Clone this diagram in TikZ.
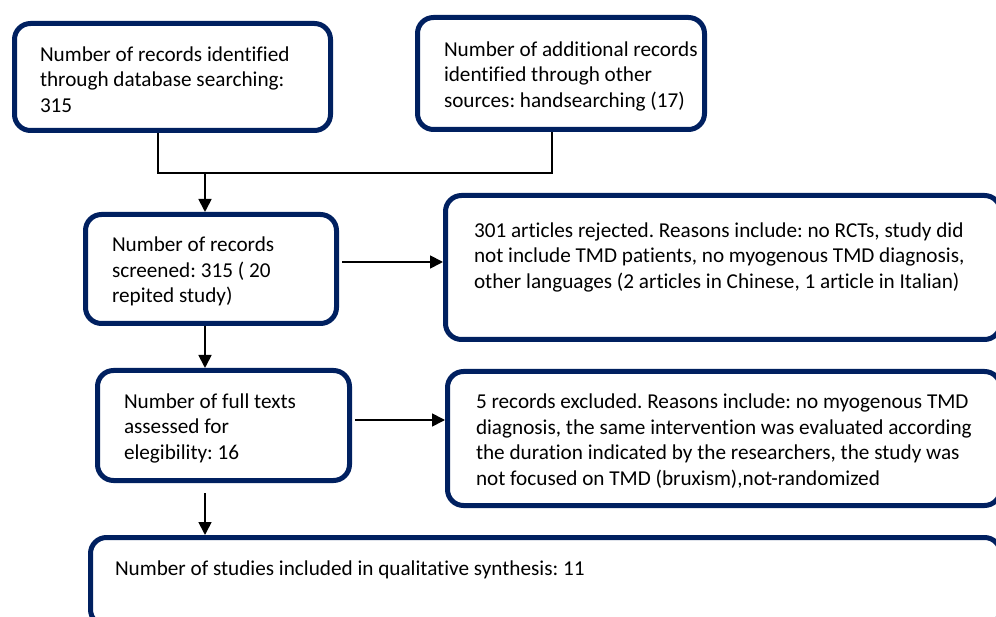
\documentclass[tikz,border=0pt]{standalone}
\usepackage{fontspec}
\setmainfont{Carlito}[Ligatures=NoCommon]
\usetikzlibrary{arrows.meta}
\definecolor{navy}{RGB}{0,32,96}
% text block inside a box: box width, left padding, height, vertical position, lines
\newcommand\flowpar[5]{\makebox[#1][l]{\hspace*{#2}\parbox[c][#3][#4]{\dimexpr#1-#2\relax}{%
  \vspace*{5pt}\raggedright\frenchspacing #5}}}
\tikzset{
  flowbox/.style={draw=navy, line width=5pt, rounded corners=16pt, fill=white,
    inner sep=0pt, outer sep=2.5pt,
    font=\fontsize{21.2}{25.5}\selectfont},
  conn/.style={draw=black, line width=1.8pt},
  arr/.style={conn, -{Triangle[length=13pt,width=13pt]}}
}
\begin{document}
\begin{tikzpicture}[x=1pt,y=-1pt]
\useasboundingbox (0,0) rectangle (996,617);
\fill[white] (0,0) rectangle (996,617);
\clip (0,0) rectangle (996,617);

% boxes
\node[flowbox, minimum width=316pt, minimum height=107pt] (B1) at (172.5,77)
  {\flowpar{316pt}{25.5pt}{107pt}{c}{Number of records identified\\through database searching:\\315}};
\node[flowbox, minimum width=287pt, minimum height=112pt] (B2) at (561,73.5)
  {\flowpar{287pt}{26.5pt}{112pt}{c}{Number of additional records\\identified through other\\sources: handsearching (17)}};
\node[flowbox, minimum width=251pt, minimum height=109pt] (B3) at (211,269)
  {\flowpar{251pt}{26.5pt}{109pt}{c}{Number of records\\screened: 315 ( 20\\repited study)}};
\node[flowbox, minimum width=555pt, minimum height=144pt] (B4) at (723,267.5)
  {\flowpar{555pt}{28.5pt}{100pt}{t}{301 articles rejected. Reasons include: no RCTs, study did\\not include TMD patients, no myogenous TMD diagnosis,\\other languages (2 articles in Chinese, 1 article in Italian)}};
\node[flowbox, minimum width=252pt, minimum height=110pt] (B5) at (223.5,425.5)
  {\flowpar{252pt}{26.5pt}{110pt}{c}{Number of full texts\\assessed for\\elegibility: 16}};
\node[flowbox, minimum width=553pt, minimum height=134pt] (B6) at (724,438.5)
  {\flowpar{553pt}{28.5pt}{134pt}{c}{5 records excluded. Reasons include: no myogenous TMD\\diagnosis, the same intervention was evaluated according\\the duration indicated by the researchers, the study was\\not focused on TMD (bruxism),not-randomized}};
\node[flowbox, minimum width=910pt, minimum height=88pt] (B7) at (545.5,581.5)
  {\flowpar{910pt}{24.5pt}{52pt}{t}{Number of studies included in qualitative synthesis: 11}};

% junction points of the connectors
\coordinate (j1) at (158,173);
\coordinate (j2) at (552,173);
\coordinate (j0) at (205,173);
\coordinate (r1) at (0,262);
\coordinate (r2) at (0,420);

\draw[conn] (B1.south -| j1) -- (j1) -- (j2) -- (B2.south -| j2);
\draw[arr] (j0) -- (B3.north -| j0);
\draw[arr, shorten <=3pt] (B3.east |- r1) -- (B4.west |- r1);
\draw[arr] (B3.south -| j0) -- (B5.north -| j0);
\draw[arr, shorten <=3pt] (B5.east |- r2) -- (B6.west |- r2);
\draw[arr, shorten <=10pt] (B5.south -| j0) -- (B7.north -| j0);
\end{tikzpicture}
\end{document}
